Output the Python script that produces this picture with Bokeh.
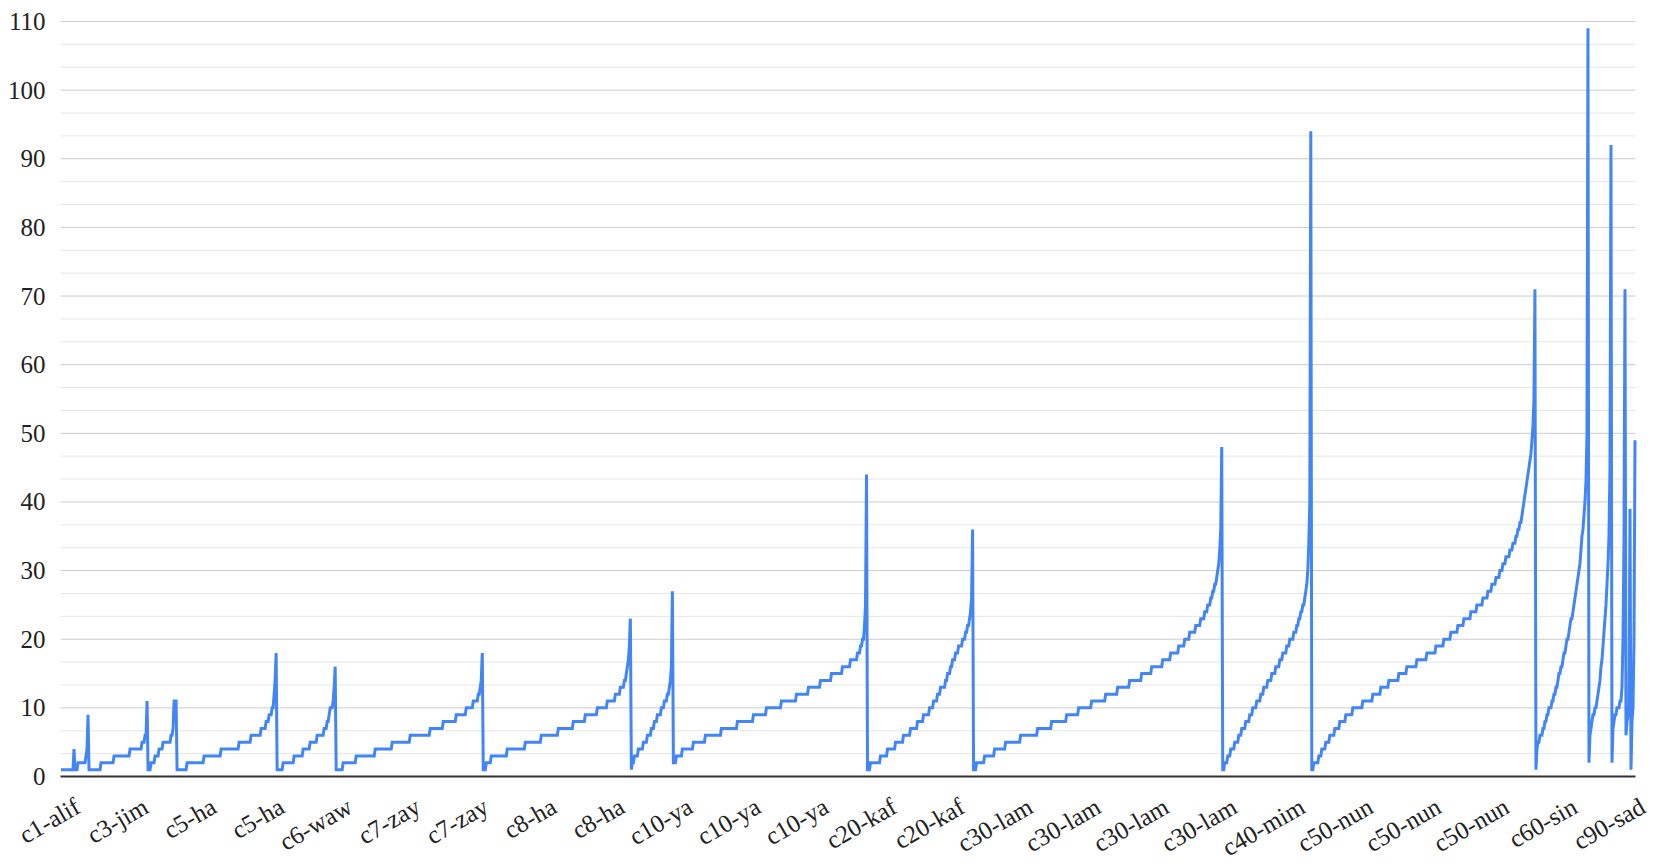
import math
from bokeh.plotting import figure
from bokeh.models import Range1d, LabelSet, ColumnDataSource
from bokeh.embed import file_html
from bokeh.resources import INLINE

# ---- data: each group is a list of (value, count) runs, sorted ascending ----
alif = [(1, 13), (4, 1)]
ba = [(1, 3), (2, 8), (3, 1), (4, 1), (9, 1)]
jim = [(1, 12), (2, 13), (3, 16), (4, 12), (5, 3), (6, 2), (11, 1)]
dal = [(1, 3), (2, 4), (3, 4), (4, 4), (5, 8), (6, 2), (7, 1), (11, 3)]
ha5 = [(1, 10), (2, 17), (3, 17), (4, 18), (5, 12), (6, 10), (7, 5), (8, 3), (9, 3),
       (10, 2), (12, 1), (14, 1), (18, 1)]
waw = [(1, 6), (2, 11), (3, 9), (4, 7), (5, 7), (6, 7), (7, 3), (8, 2), (9, 1), (10, 3),
       (11, 1), (13, 1), (16, 1)]
zay = [(1, 7), (2, 13), (3, 19), (4, 17), (5, 18), (6, 20), (7, 13), (8, 13), (9, 10),
       (10, 7), (11, 5), (12, 2), (13, 1), (14, 1), (18, 1)]
ha8 = [(1, 3), (2, 5), (3, 16), (4, 18), (5, 16), (6, 17), (7, 15), (8, 12), (9, 12),
       (10, 10), (11, 8), (12, 5), (13, 4), (14, 2), (15, 1), (16, 1), (17, 1), (19, 1), (23, 1)]
ta = [(1, 1), (2, 2), (3, 4), (4, 5), (5, 4), (6, 4), (7, 3), (8, 3), (9, 4), (10, 3),
      (11, 3), (12, 2), (13, 1), (14, 1), (16, 1), (27, 1)]
ya = [(2, 3), (3, 6), (4, 11), (5, 12), (6, 16), (7, 16), (8, 16), (9, 13), (10, 15),
      (11, 15), (12, 12), (13, 12), (14, 11), (15, 11), (16, 8), (17, 7), (18, 3), (19, 2),
      (20, 2), (22, 1), (25, 1), (44, 1)]
kaf = [(1, 3), (2, 10), (3, 7), (4, 8), (5, 8), (6, 7), (7, 7), (8, 6), (9, 6), (10, 4),
       (11, 4), (12, 3), (13, 5), (14, 2), (15, 3), (16, 2), (17, 3), (18, 3), (19, 4),
       (20, 3), (21, 2), (22, 2), (23, 1), (24, 1), (26, 1), (36, 1)]
lam = [(1, 3), (2, 8), (3, 10), (4, 11), (5, 15), (6, 17), (7, 14), (8, 15), (9, 12),
       (10, 13), (11, 14), (12, 12), (13, 12), (14, 12), (15, 10), (16, 11), (17, 8),
       (18, 8), (19, 6), (20, 5), (21, 6), (22, 5), (23, 4), (24, 3), (25, 3), (26, 2),
       (27, 2), (28, 2), (29, 1), (30, 1), (31, 1), (33, 1), (36, 1), (48, 1)]
mim = [(1, 2), (2, 3), (3, 3), (4, 4), (5, 4), (6, 3), (7, 4), (8, 4), (9, 3), (10, 4),
       (11, 4), (12, 3), (13, 4), (14, 4), (15, 4), (16, 4), (17, 3), (18, 4), (19, 3),
       (20, 4), (21, 3), (22, 2), (23, 2), (24, 2), (25, 2), (26, 1), (27, 1), (28, 1),
       (30, 1), (34, 1), (40, 1), (94, 1)]
nun = [(1, 2), (2, 5), (3, 3), (4, 4), (5, 4), (6, 5), (7, 5), (8, 6), (9, 7), (10, 10),
       (11, 10), (12, 8), (13, 8), (14, 10), (15, 8), (16, 10), (17, 10), (18, 9), (19, 8),
       (20, 7), (21, 7), (22, 6), (23, 7), (24, 6), (25, 6), (26, 5), (27, 4), (28, 4),
       (29, 4), (30, 3), (31, 3), (32, 4), (33, 3), (34, 3), (35, 2), (36, 2), (37, 2),
       (38, 1), (39, 1), (40, 1), (41, 1), (42, 1), (43, 1), (44, 1), (45, 1), (46, 1),
       (47, 1), (49, 1), (51, 1), (55, 1), (71, 1)]
sin = [(1, 1), (4, 1), (5, 2), (6, 3), (7, 2), (8, 2), (9, 2), (10, 3), (11, 2), (12, 2),
       (13, 2), (14, 1), (15, 2), (16, 2), (17, 1), (18, 2), (19, 1), (20, 2), (21, 1),
       (22, 1), (23, 2), (24, 1), (25, 1), (26, 1), (27, 1), (28, 1), (29, 1), (30, 1),
       (31, 1), (33, 1), (35, 1), (36, 1), (38, 1), (40, 1), (43, 1), (50, 1), (109, 1)]
ayn = [(2, 1), (6, 1), (7, 1), (8, 1), (9, 2), (10, 2), (11, 1), (12, 1), (13, 1), (14, 1),
       (16, 1), (17, 1), (19, 1), (21, 1), (23, 1), (25, 1), (28, 1), (31, 1), (35, 1),
       (45, 1), (92, 1)]
fa = [(2, 1), (7, 1), (8, 1), (9, 2), (10, 3), (11, 2), (13, 1), (20, 1), (35, 1), (71, 1)]
sad = [(6, 1), (8, 1), (9, 1), (10, 1), (39, 1)]
qaf = [(1, 1), (8, 1), (10, 1), (20, 1), (49, 1)]

group_runs = [alif, ba, jim, dal, ha5, waw, zay, ha8, ta, ya, kaf, lam, mim, nun,
              sin, ayn, fa, sad, qaf]

tick_labels = ["c1-alif", "c3-jim", "c5-ha", "c5-ha", "c6-waw", "c7-zay", "c7-zay",
               "c8-ha", "c8-ha", "c10-ya", "c10-ya", "c10-ya", "c20-kaf", "c20-kaf",
               "c30-lam", "c30-lam", "c30-lam", "c30-lam", "c40-mim", "c50-nun",
               "c50-nun", "c50-nun", "c60-sin", "c90-sad"]
label_every = 68
y_major = list(range(0, 111, 10))
y_minor = [v + d for v in range(0, 110, 10) for d in (10 / 3, 20 / 3)]

values = []
for runs in group_runs:
    for v, c in runs:
        values.extend([v] * c)
N = len(values)
xs = list(range(N))

# ---- layout (pixels) ----
W, H = 1660, 860
frame_right, frame_bottom = 1655, 858        # frame starts at (0, 0)
data_left, data_right = 60, 1635              # x extent of the data area
data_top, zero_y = 21, 776                    # y of 110 and of 0
ppu_y = (zero_y - data_top) / 110.0
x0, x1 = -0.5, N - 0.5
ups_x = (x1 - x0) / (data_right - data_left)  # data units per pixel
x_start = x0 - data_left * ups_x
x_end = x0 + (frame_right - data_left) * ups_x
y_end = 110 + data_top / ppu_y
y_start = -(frame_bottom - zero_y) / ppu_y

p = figure(width=W, height=H, output_backend="svg", toolbar_location=None,
           x_range=Range1d(x_start, x_end), y_range=Range1d(y_start, y_end),
           min_border_left=0, min_border_top=0,
           min_border_right=W - frame_right, min_border_bottom=H - frame_bottom)
p.outline_line_color = None
p.background_fill_color = "white"
p.xgrid.grid_line_color = None
p.ygrid.grid_line_color = None
p.xaxis.visible = False
p.yaxis.visible = False

# gridlines across the data span
p.segment(x0=[x0] * len(y_minor), x1=[x1] * len(y_minor), y0=y_minor, y1=y_minor,
          line_color="#e6e6e6", line_width=1)
p.segment(x0=[x0] * (len(y_major) - 1), x1=[x1] * (len(y_major) - 1), y0=y_major[1:],
          y1=y_major[1:], line_color="#cccccc", line_width=1)
# baseline
p.segment(x0=[x0], x1=[x1], y0=[0], y1=[0], line_color="#333333", line_width=2)

p.line(xs, values, line_color="#4285F4", line_width=3, line_join="miter")

# y tick labels
ysrc = ColumnDataSource(dict(x=[x0 - 15 * ups_x] * len(y_major), y=y_major,
                             text=[str(v) for v in y_major]))
p.add_layout(LabelSet(x="x", y="y", text="text", source=ysrc,
                      text_align="right", text_baseline="middle",
                      text_font="Liberation Serif", text_font_size="25px",
                      text_color="#222222"))

# slanted category labels
label_pos = [i * label_every + 10 for i in range(len(tick_labels))]
xsrc = ColumnDataSource(dict(x=label_pos, y=[-2.35] * len(label_pos), text=tick_labels))
p.add_layout(LabelSet(x="x", y="y", text="text", source=xsrc, angle=math.pi / 6,
                      text_align="right", text_baseline="top",
                      text_font="Liberation Serif", text_font_size="25px",
                      text_color="#222222"))

open("out.html", "w").write(file_html(p, INLINE))
